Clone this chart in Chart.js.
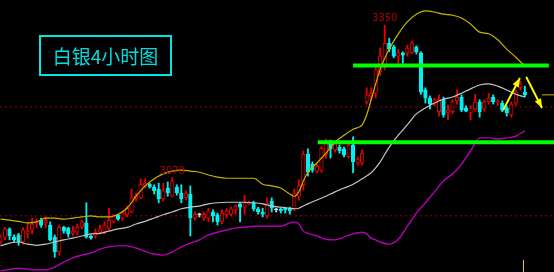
<!DOCTYPE html>
<html>
<head>
<meta charset="utf-8">
<script src="https://cdn.jsdelivr.net/npm/chart.js@4.4.1/dist/chart.umd.min.js"></script>
<style>
  html, body { margin: 0; padding: 0; background: #000; }
  #wrap { position: relative; width: 554px; height: 272px; overflow: hidden; background: #000; }
  #title {
    position: absolute; left: 39px; top: 35px; width: 129px; height: 37px;
    border: 2px solid #00e6e6; color: #00dede;
    font: 19px "Noto Sans CJK SC", sans-serif; line-height: 37px; text-align: center;
  }
</style>
</head>
<body>
<div id="wrap">
  <canvas id="chart" width="554" height="272"></canvas>
  <div id="title">白银4小时图</div>
</div>
<script>
// ─── Candles (4h bars, index = bar number) ───────────────────
const opens = [
  2952, 2961, 2976, 2961, 2965, 2952, 2968, 2974, 2985, 2992,
  2987, 2983, 2961, 2934, 2979, 2978, 2968, 2970, 2979, 2987,
  2963, 2963, 2970, 2970, 2978, 2990, 3002, 2996, 3002, 3007,
  3031, 3033, 3055, 3058, 3053, 3049, 3031, 3051, 3036, 3053,
  3042, 3033, 3040, 2996, 3002, 2996, 2996, 3007, 3002, 2990,
  3002, 3003, 3011, 3022, 3016, 3022, 3024, 3013, 3007, 3000,
  3027, 3011, 3013, 3014, 3014, 3013, 3036, 3057, 3113, 3095,
  3082, 3084, 3113, 3135, 3121, 3126, 3123, 3108, 3130, 3097,
  3097, 3209, 3220, 3225, 3264, 3273, 3317, 3310, 3293, 3299,
  3299, 3299, 3310, 3299, 3231, 3216, 3205, 3191, 3214, 3189,
  3191, 3211, 3218, 3198, 3189, 3196, 3209, 3196, 3209, 3218,
  3207, 3207, 3198, 3185, 3207, 3235, 3227
];
const highs = [
  2965, 2979, 2978, 2965, 2968, 2978, 2987, 2996, 2994, 2996,
  2998, 2989, 2965, 2983, 2981, 2979, 2981, 2985, 2992, 3024,
  2965, 2976, 2983, 2989, 3014, 3003, 3003, 3009, 3018, 3049,
  3042, 3068, 3068, 3060, 3057, 3060, 3060, 3062, 3070, 3057,
  3057, 3046, 3055, 3007, 3005, 3007, 3014, 3011, 3005, 3011,
  3013, 3016, 3020, 3025, 3038, 3027, 3027, 3016, 3014, 3033,
  3033, 3014, 3014, 3016, 3016, 3049, 3066, 3119, 3123, 3099,
  3095, 3128, 3141, 3139, 3135, 3130, 3126, 3134, 3145, 3108,
  3121, 3235, 3235, 3275, 3308, 3350, 3326, 3313, 3306, 3301,
  3313, 3321, 3312, 3301, 3235, 3220, 3216, 3222, 3218, 3203,
  3213, 3231, 3222, 3202, 3202, 3223, 3213, 3213, 3225, 3222,
  3213, 3211, 3202, 3209, 3231, 3247, 3238
];
const lows = [
  2948, 2956, 2956, 2952, 2946, 2948, 2959, 2967, 2978, 2979,
  2978, 2954, 2924, 2928, 2968, 2961, 2963, 2965, 2976, 2959,
  2957, 2959, 2967, 2967, 2974, 2987, 2992, 2992, 2998, 3005,
  3027, 3031, 3051, 3051, 3040, 3024, 3027, 3036, 3035, 3038,
  3024, 3029, 2963, 2992, 2998, 2992, 2989, 2989, 2983, 2985,
  2996, 3000, 3003, 2989, 3003, 3020, 3009, 3003, 2998, 2996,
  3007, 3007, 3005, 3005, 3003, 3009, 3029, 3047, 3073, 3080,
  3079, 3080, 3106, 3106, 3117, 3115, 3108, 3106, 3079, 3093,
  3093, 3205, 3213, 3216, 3258, 3268, 3301, 3290, 3280, 3280,
  3293, 3297, 3297, 3223, 3207, 3196, 3202, 3183, 3181, 3176,
  3187, 3205, 3191, 3191, 3176, 3192, 3181, 3192, 3205, 3205,
  3202, 3191, 3183, 3181, 3203, 3231, 3218
];
const closes = [
  2961, 2976, 2963, 2956, 2952, 2974, 2972, 2985, 2989, 2983,
  2992, 2956, 2934, 2979, 2972, 2967, 2972, 2979, 2989, 2961,
  2959, 2970, 2976, 2983, 2992, 3000, 2994, 3005, 3014, 3033,
  3036, 3058, 3060, 3053, 3046, 3031, 3046, 3042, 3064, 3042,
  3031, 3042, 2996, 3003, 3002, 3003, 3009, 3000, 2989, 3005,
  3009, 3013, 3018, 3016, 3024, 3025, 3013, 3007, 3003, 3024,
  3014, 3011, 3009, 3011, 3009, 3042, 3055, 3113, 3080, 3084,
  3091, 3124, 3134, 3123, 3132, 3119, 3112, 3130, 3099, 3104,
  3115, 3222, 3225, 3268, 3293, 3317, 3306, 3293, 3299, 3295,
  3308, 3317, 3301, 3227, 3216, 3205, 3213, 3214, 3185, 3194,
  3209, 3218, 3194, 3192, 3198, 3209, 3191, 3209, 3216, 3209,
  3209, 3194, 3189, 3205, 3227, 3242, 3222
];

// ─── Bollinger bands, read at these bar numbers ──────────────
const bandIdx = [0, 2, 4, 6, 8, 10, 12, 14, 16, 18, 20, 22, 24, 26, 28, 30, 32, 34, 36, 38,
  40, 42, 44, 46, 48, 50, 52, 54, 56, 58, 60, 62, 64, 65, 66, 67, 68, 70, 72, 74, 76, 78, 80,
  81, 82, 83, 84, 86, 88, 90, 92, 94, 96, 98, 100, 102, 104, 106, 108, 110, 112, 114, 116];
const upperBand = [2994, 2992, 2990, 2987, 2989, 2996, 2996, 2994, 2996, 2998, 3000, 2998, 2998,
  3003, 3014, 3036, 3055, 3068, 3077, 3082, 3084, 3082, 3080, 3075, 3071, 3069, 3069, 3069, 3069,
  3058, 3055, 3051, 3040, 3036, 3044, 3064, 3080, 3097, 3115, 3135, 3148, 3159, 3167,
  3185, 3213, 3242, 3269, 3306, 3334, 3356, 3370, 3376, 3374, 3370, 3368, 3363, 3352, 3337, 3334,
  3323, 3306, 3291, 3275];
const midBand = [2945, 2950, 2952, 2948, 2946, 2948, 2952, 2956, 2959, 2963, 2967, 2968, 2972,
  2976, 2979, 2985, 2990, 2996, 3002, 3007, 3013, 3016, 3018, 3022, 3024, 3025, 3025, 3025, 3024,
  3022, 3018, 3016, 3014, 3013, 3014, 3018, 3022, 3029, 3036, 3044, 3051, 3058, 3068,
  3073, 3079, 3088, 3099, 3126, 3148, 3167, 3187, 3198, 3207, 3214, 3218, 3225, 3233, 3240, 3242,
  3238, 3231, 3223, 3218];
const lowerBand = [2899, 2902, 2904, 2902, 2901, 2901, 2906, 2915, 2923, 2928, 2932, 2939, 2943,
  2945, 2945, 2941, 2935, 2930, 2928, 2934, 2943, 2950, 2956, 2965, 2970, 2974, 2978, 2979, 2981,
  2981, 2981, 2981, 2987, 2989, 2985, 2972, 2968, 2963, 2957, 2956, 2961, 2967, 2970,
  2967, 2959, 2956, 2952, 2948, 2957, 2981, 3005, 3024, 3044, 3064, 3077, 3095, 3119, 3143, 3143,
  3141, 3143, 3146, 3156];

// ─── Drawn-on levels and marks ───────────────────────────────
const dottedLevels = [3000, 3200];
const greenLevels = [3276, 3135];
const greenFrom = [78.0, 70.2];
const greenTo = [121.3, 122.5];
const arrowUp = [[111.2, 3194], [114.9, 3253]];
const arrowDown = [[116.3, 3255], [119.8, 3198]];
const markIdx = [38, 85];
const priceTick = [119.8, 122.5];
const cursorIdx = 115.7;

const X_MIN = -0.11, X_MAX = 122.45;
const Y_MIN = 2897, Y_MAX = 3396;

const UP = '#e60000', DOWN = '#00f0f0', DOJI = '#d0d0d0';

function barColor(i) {
  if (opens[i] === closes[i]) return DOJI;
  return closes[i] > opens[i] ? UP : DOWN;
}

function seg(points, color, width, order, extra) {
  return Object.assign({
    type: 'line',
    data: points.map(p => ({ x: p[0], y: p[1] })),
    borderColor: color,
    borderWidth: width,
    pointRadius: 0,
    tension: 0,
    order
  }, extra || {});
}

// ─── Plugins: arrow heads and high labels ────────────────────
const arrowHeads = {
  id: 'arrowHeads',
  afterDatasetsDraw(chart) {
    const ctx = chart.ctx;
    chart.data.datasets.forEach((ds, di) => {
      if (!ds.arrow) return;
      const pts = chart.getDatasetMeta(di).data;
      const a = pts[pts.length - 2], b = pts[pts.length - 1];
      const ang = Math.atan2(b.y - a.y, b.x - a.x);
      const len = 9, half = 3.5;
      const bx = b.x - len * Math.cos(ang), by = b.y - len * Math.sin(ang);
      ctx.save();
      ctx.fillStyle = ds.borderColor;
      ctx.beginPath();
      ctx.moveTo(b.x, b.y);
      ctx.lineTo(bx + half * Math.sin(ang), by - half * Math.cos(ang));
      ctx.lineTo(bx - half * Math.sin(ang), by + half * Math.cos(ang));
      ctx.closePath();
      ctx.fill();
      ctx.restore();
    });
  }
};

const highLabels = {
  id: 'highLabels',
  afterDatasetsDraw(chart) {
    const ctx = chart.ctx;
    const xs = chart.scales.x, ys = chart.scales.y;
    ctx.save();
    ctx.fillStyle = '#b40000';
    ctx.font = '11px "Liberation Sans Narrow", "DejaVu Sans Condensed", Arial, sans-serif';
    ctx.textAlign = 'center';
    ctx.textBaseline = 'bottom';
    markIdx.forEach(i => {
      ctx.fillText(String(highs[i]), xs.getPixelForValue(i), ys.getPixelForValue(highs[i]) - 1);
    });
    ctx.restore();
  }
};

// ─── Chart ───────────────────────────────────────────────────
const datasets = [
  seg([[cursorIdx, Y_MIN], [cursorIdx, 2919]], '#e0d000', 1, 0),
  seg([[priceTick[0], closes[closes.length - 1]], [priceTick[1], closes[closes.length - 1]]], '#c8b400', 1, 0),
  seg(arrowUp, '#ffff00', 2, 0, { arrow: true }),
  seg(arrowDown, '#ffff00', 2, 0, { arrow: true }),
  ...greenLevels.map((v, k) => seg([[greenFrom[k], v], [greenTo[k], v]], '#00ff00', 4, 1)),
  {
    type: 'line', order: 2,
    data: bandIdx.map((x, k) => ({ x, y: upperBand[k] })),
    borderColor: '#c8b400', borderWidth: 1.2, pointRadius: 0, cubicInterpolationMode: 'monotone'
  },
  {
    type: 'line', order: 2,
    data: bandIdx.map((x, k) => ({ x, y: midBand[k] })),
    borderColor: '#c4c4c4', borderWidth: 1.2, pointRadius: 0, cubicInterpolationMode: 'monotone'
  },
  {
    type: 'line', order: 2,
    data: bandIdx.map((x, k) => ({ x, y: lowerBand[k] })),
    borderColor: '#b400b4', borderWidth: 1.4, pointRadius: 0, cubicInterpolationMode: 'monotone'
  },
  {
    type: 'bar', order: 3, grouped: false,
    data: opens.map((o, i) => ({ x: i, y: [o, closes[i]] })),
    barThickness: 3.6, minBarLength: 1, borderWidth: 1, borderSkipped: false,
    backgroundColor: c => (c.dataIndex === undefined ? '#000' : (barColor(c.dataIndex) === UP ? '#000' : barColor(c.dataIndex))),
    borderColor: c => (c.dataIndex === undefined ? UP : barColor(c.dataIndex))
  },
  {
    type: 'bar', order: 4, grouped: false,
    data: opens.map((o, i) => ({ x: i, y: [lows[i], highs[i]] })),
    barThickness: 1.2, borderWidth: 0,
    backgroundColor: c => (c.dataIndex === undefined ? UP : barColor(c.dataIndex))
  },
  ...dottedLevels.map(v => seg([[X_MIN, v], [X_MAX, v]], '#9a0000', 1, 5, { borderDash: [2, 3] }))
];

new Chart(document.getElementById('chart'), {
  type: 'bar',
  data: { datasets },
  options: {
    responsive: false,
    animation: false,
    events: [],
    layout: { padding: 0 },
    plugins: { legend: { display: false }, tooltip: { enabled: false } },
    scales: {
      x: { type: 'linear', min: X_MIN, max: X_MAX, offset: false, display: false },
      y: { type: 'linear', min: Y_MIN, max: Y_MAX, display: false }
    }
  },
  plugins: [arrowHeads, highLabels]
});
</script>
</body>
</html>
